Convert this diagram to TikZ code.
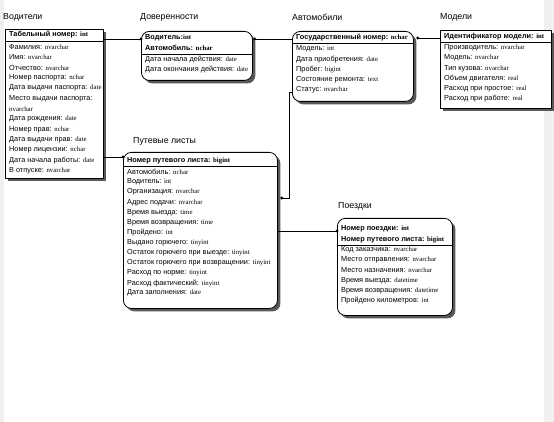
\documentclass[tikz,border=0pt]{standalone}
\usepackage{fontspec}
\setmainfont{Liberation Sans}
\newfontfamily\tyf{Liberation Serif}
\usetikzlibrary{shadows}
\newcommand\tp[1]{{\tyf\fontsize{6.8}{7}\selectfont #1}}
\newcommand\tpb[1]{{\tyf\bfseries\fontsize{6.8}{7}\selectfont #1}}
\tikzset{
  ent/.style={draw=black, line width=0.8pt, fill=white, inner sep=0pt, anchor=north west,
    drop shadow={shadow xshift=3pt, shadow yshift=-3pt, fill=black!65, opacity=1}},
  rnd/.style={ent, rounded corners=8pt},
  fld/.style={anchor=west, inner sep=0pt, font=\fontsize{7.3}{8}\selectfont},
  hdr/.style={anchor=west, inner sep=0pt, font=\fontsize{7.3}{8}\selectfont\bfseries},
  ttl/.style={anchor=west, inner sep=0pt, font=\fontsize{8.8}{9}\selectfont},
  dot/.style={circle, fill=black, inner sep=0pt, minimum size=3.2pt},
  conn/.style={line width=0.7pt},
  sep/.style={line width=0.7pt}
}
\begin{document}
\begin{tikzpicture}[x=1pt,y=-1pt]
\fill[black!6] (0,0) rectangle (554,422);
\fill[white] (4,0) rectangle (544,422);
\useasboundingbox (0,0) rectangle (554,422);

% titles
\node[ttl] (t-vod) at (3,17) {Водители};
\node[ttl] (t-dov) at (140,17) {Доверенности};
\node[ttl] (t-avt) at (292,17) {Автомобили};
\node[ttl] (t-mod) at (440,17) {Модели};
\node[ttl] (t-put) at (133,141) {Путевые листы};
\node[ttl] (t-poe) at (338,206) {Поездки};

% boxes
\node[ent, minimum width=98pt, minimum height=149pt] (vod) at (5,29) {};
\node[rnd, minimum width=111pt, minimum height=49pt] (dov) at (141,31) {};
\node[rnd, minimum width=121pt, minimum height=70pt] (avt) at (292,31) {};
\node[ent, minimum width=111pt, minimum height=78pt] (mod) at (440,30) {};
\node[rnd, minimum width=154pt, minimum height=156pt] (put) at (123,152) {};
\node[rnd, minimum width=115pt, minimum height=97pt] (poe) at (337,218) {};

% separators
\draw[sep] (vod.west |- 0,41) -- (vod.east |- 0,41);
\draw[sep] (dov.west |- 0,54) -- (dov.east |- 0,54);
\draw[sep] (avt.west |- 0,43) -- (avt.east |- 0,43);
\draw[sep] (mod.west |- 0,42) -- (mod.east |- 0,42);
\draw[sep] (put.west |- 0,166) -- (put.east |- 0,166);
\draw[sep] (poe.west |- 0,245) -- (poe.east |- 0,245);

% Водители
\node[hdr] (vod-h) at (9,35) {Табельный номер: \tpb{int}};
\foreach \t [count=\i] in {
  {Фамилия: \tp{nvarchar}},
  {Имя: \tp{nvarchar}},
  {Отчество: \tp{nvarchar}},
  {Номер паспорта: \tp{nchar}},
  {Дата выдачи паспорта: \tp{date}},
  {Место выдачи паспорта:},
  {\tp{nvarchar}},
  {Дата рождения: \tp{date}},
  {Номер прав: \tp{nchar}},
  {Дата выдачи прав: \tp{date}},
  {Номер лицензии: \tp{nchar}},
  {Дата начала работы: \tp{date}},
  {В отпуске: \tp{nvarchar}}}
  \node[fld] (vod-r\i) at (9,{47+(\i-1)*10.3}) {\t};

% Доверенности
\node[hdr] (dov-h1) at (145,38) {Водитель:\tpb{int}};
\node[hdr] (dov-h2) at (145,48) {Автомобиль: \tpb{nchar}};
\node[fld] (dov-r1) at (145,60) {Дата начала действия: \tp{date}};
\node[fld] (dov-r2) at (145,70) {Дата окончания действия: \tp{date}};

% Автомобили
\node[hdr] (avt-h) at (296,37.5) {Государственный номер: \tpb{nchar}};
\foreach \t [count=\i] in {
  {Модель: \tp{int}},
  {Дата приобретения: \tp{date}},
  {Пробег: \tp{bigint}},
  {Состояние ремонта: \tp{text}},
  {Статус: \tp{nvarchar}}}
  \node[fld] (avt-r\i) at (296,{49+(\i-1)*10.2}) {\t};

% Модели
\node[hdr] (mod-h) at (444,37) {Идентификатор модели: \tpb{int}};
\foreach \t [count=\i] in {
  {Производитель: \tp{nvarchar}},
  {Модель: \tp{nvarchar}},
  {Тип кузова: \tp{nvarchar}},
  {Объем двигателя: \tp{real}},
  {Расход при простое: \tp{real}},
  {Расход при работе: \tp{real}}}
  \node[fld] (mod-r\i) at (444,{48+(\i-1)*10.2}) {\t};

% Путевые листы
\node[hdr] (put-h) at (127,161) {Номер путевого листа: \tpb{bigint}};
\foreach \t [count=\i] in {
  {Автомобиль: \tp{nchar}},
  {Водитель: \tp{int}},
  {Организация: \tp{nvarchar}},
  {Адрес подачи: \tp{nvarchar}},
  {Время выезда: \tp{time}},
  {Время возвращения: \tp{time}},
  {Пройдено: \tp{int}},
  {Выдано горючего: \tp{tinyint}},
  {Остаток горючего при выезде: \tp{tinyint}},
  {Остаток горючего при возвращении: \tp{tinyint}},
  {Расход по норме: \tp{tinyint}},
  {Расход фактический: \tp{tinyint}},
  {Дата заполнения: \tp{date}}}
  \node[fld] (put-r\i) at (127,{172+(\i-1)*10.1}) {\t};

% Поездки
\node[hdr] (poe-h1) at (341,229) {Номер поездки: \tpb{int}};
\node[hdr] (poe-h2) at (341,240) {Номер путевого листа: \tpb{bigint}};
\foreach \t [count=\i] in {
  {Код заказчика: \tp{nvarchar}},
  {Место отправления: \tp{nvarchar}},
  {Место назначения: \tp{nvarchar}},
  {Время выезда: \tp{datetime}},
  {Время возвращения: \tp{datetime}},
  {Пройдено километров: \tp{int}}}
  \node[fld] (poe-r\i) at (341,{250+(\i-1)*10.2}) {\t};

% connectors
\draw[conn] (vod.east |- 0,39) -- (dov.west |- 0,39) node[dot] (d1) {};
\draw[conn] (avt.west |- 0,39) -- ([xshift=2pt]dov.east |- 0,39) node[dot] (d2) {};
\draw[conn] (mod.west |- 0,38) -- ([xshift=4pt]avt.east |- 0,38) node[dot] (d3) {};
\draw[conn] (vod.east |- 0,157) -- (put.west |- 0,157) node[dot] (d4) {};
\draw[conn] (avt.west |- 0,92) -- ++(-3,0) |- ([xshift=4pt]put.east |- 0,198) node[dot] (d5) {};
\draw[conn] (put.east |- 0,231) -- (poe.west |- 0,231) node[dot] (d6) {};
\end{tikzpicture}
\end{document}
